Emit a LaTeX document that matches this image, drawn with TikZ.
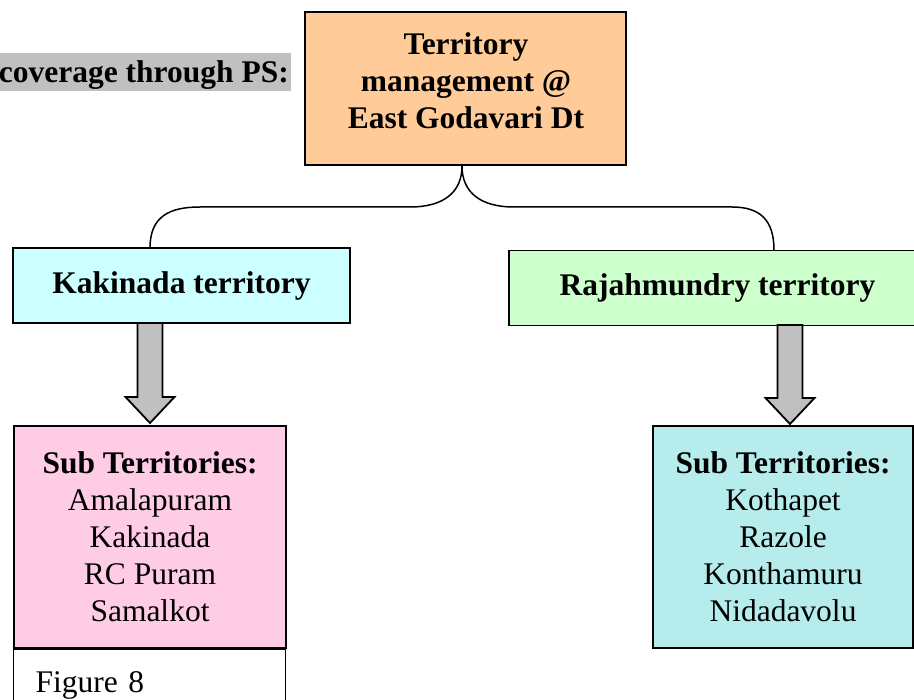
\documentclass[tikz,border=0pt]{standalone}
\usepackage{fontspec}
\setmainfont{Liberation Serif}
\usetikzlibrary{positioning}

\definecolor{terrorange}{HTML}{FFCC99}
\definecolor{kakcyan}{HTML}{CCFFFF}
\definecolor{rajgreen}{HTML}{CCFFCC}
\definecolor{kakpink}{HTML}{FFCCE6}
\definecolor{rajteal}{HTML}{B6ECEC}
\definecolor{markgray}{HTML}{C0C0C0}

\tikzset{
  box/.style={draw, line width=1.8pt, inner sep=0pt, align=center},
  brace/.style={draw, line width=1.5pt},
  blockarr/.style={draw, fill=markgray, line width=1.8pt, line join=miter},
}

\begin{document}
\begin{tikzpicture}[x=1pt, y=-1pt, font=\fontsize{31.5}{37}\selectfont]
                \clip (0,0) rectangle (914,700);

                % heading mark
                \node[fill=markgray, inner xsep=2pt, inner ysep=2pt, text height=28pt, text depth=6pt,
                      anchor=base east, font=\fontsize{31.5}{37}\selectfont\bfseries] (cover) at (291,83) {coverage through PS:};

                \node[box, fill=terrorange, minimum width=321pt, minimum height=153pt] (terr) at (465.5,88.5) {};
                \node[align=center, font=\fontsize{31.5}{37}\selectfont\bfseries] (terrtext) at (466,81) {Territory\\management @\\East Godavari Dt};

                \node[box, fill=kakcyan, minimum width=337pt, minimum height=75pt, font=\fontsize{31.5}{37}\selectfont\bfseries] (kak) at (181.5,285.5) {Kakinada territory};
                \node[box, fill=rajgreen, minimum width=417pt, minimum height=75pt, font=\fontsize{31.5}{37}\selectfont\bfseries] (raj) at (717.5,288) {Rajahmundry territory};

                \node[box, fill=kakpink, minimum width=272pt, minimum height=222pt] (kaksub) at (150,537)
                     {\textbf{Sub Territories:}\\Amalapuram\\Kakinada\\RC Puram\\Samalkot};
                \node[box, fill=rajteal, minimum width=260pt, minimum height=222pt] (rajsub) at (783,537)
                     {\textbf{Sub Territories:}\\Kothapet\\Razole\\Konthamuru\\Nidadavolu};

                \node[draw, line width=1.2pt, inner xsep=0pt, text width=228pt, align=left,
                      minimum width=272pt, minimum height=72pt, anchor=north west] (fig) at (kaksub.south west) {Figure 8};

                % brace from the top box
                \coordinate (apex) at (462,166);
                \coordinate (kakbr) at (150,248);
                \coordinate (rajbr) at (774,250);
                \draw[brace] (kakbr) .. controls (150,216) and (170,207) .. (200,207) -- (410,207)
                             .. controls (444,207) and (462,192) .. (apex);
                \draw[brace] (apex) .. controls (462,192) and (480,207) .. (514,207) -- (732,207)
                             .. controls (760,207) and (774,220) .. (rajbr);

                % block arrows
                \coordinate (kakarr) at (150,323);
                \coordinate (rajarr) at (790,325);
                \draw[blockarr] ([xshift=-12.5pt]kakarr) -- ++(0,74) -- ++(-12,0) -- ++(24.5,26)
                                -- ++(24.5,-26) -- ++(-12,0) -- ++(0,-74) -- cycle;
                \draw[blockarr] ([xshift=-12.5pt]rajarr) -- ++(0,73) -- ++(-12,0) -- ++(24.5,26)
                                -- ++(24.5,-26) -- ++(-12,0) -- ++(0,-73) -- cycle;
            \end{tikzpicture}
\end{document}
